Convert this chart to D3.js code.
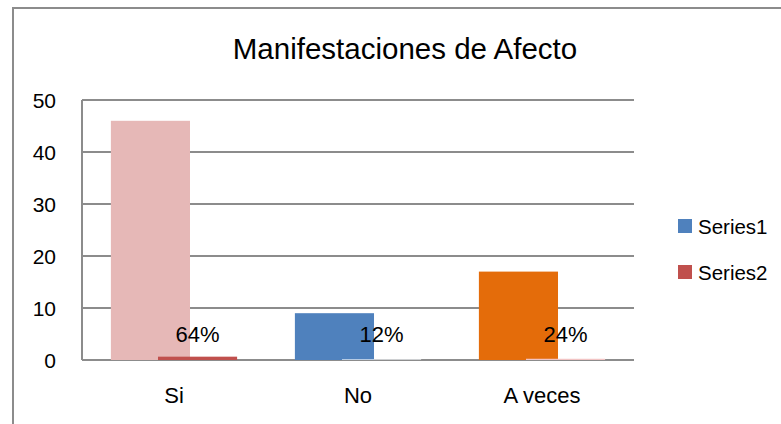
<!DOCTYPE html>
<html>
<head>
<meta charset="utf-8">
<script src="https://cdn.jsdelivr.net/npm/d3@7"></script>
<style>
  body { margin: 0; background: #fff; }
  svg { display: block; font-family: "Liberation Sans", Arial, sans-serif; }
</style>
</head>
<body>
<svg id="chart"></svg>
<script>
const categories = ["Si", "No", "A veces"];
const series1 = [46, 9, 17];
const series2 = [0.64, 0.12, 0.24];
const series2Labels = ["64%", "12%", "24%"];
const yTicks = [0, 10, 20, 30, 40, 50];
const seriesNames = ["Series1", "Series2"];

const series1Colors = ["#E6B8B7", "#4F81BD", "#E46C0A"];
const series2Colors = ["#C0504D", "#F5F8FC", "#F2C4C4"];
const legendColors = ["#4F81BD", "#C0504D"];

const width = 781;
const height = 424;
const margin = { top: 100, right: 147, bottom: 64, left: 82 };

const svg = d3.select("#chart")
    .attr("width", width)
    .attr("height", height);

// outer frame
svg.append("path")
    .attr("d", `M13,${height} V8 H${width}`)
    .attr("fill", "none")
    .attr("stroke", "#8c8c8c")
    .attr("stroke-width", 2);

svg.append("text")
    .attr("x", 405)
    .attr("y", 59)
    .attr("text-anchor", "middle")
    .attr("font-size", "29.5px")
    .attr("fill", "#000")
    .text("Manifestaciones de Afecto");

const xScale = d3.scaleBand()
    .domain(categories)
    .range([margin.left, width - margin.right])
    .padding(0);

const yScale = d3.scaleLinear()
    .domain([0, 50])
    .range([height - margin.bottom, margin.top]);

const bw = xScale.bandwidth() * 0.43;
const off = xScale.bandwidth() * 0.128;

// gridlines
svg.append("g")
    .selectAll("line")
    .data(yTicks)
    .join("line")
    .attr("x1", margin.left)
    .attr("x2", width - margin.right)
    .attr("y1", d => yScale(d))
    .attr("y2", d => yScale(d))
    .attr("stroke", "#8c8c8c")
    .attr("stroke-width", 2);

// left axis line
svg.append("line")
    .attr("x1", margin.left)
    .attr("x2", margin.left)
    .attr("y1", yScale(50))
    .attr("y2", yScale(0))
    .attr("stroke", "#8c8c8c")
    .attr("stroke-width", 2);

// y labels
svg.append("g")
    .selectAll("text")
    .data(yTicks)
    .join("text")
    .attr("x", 56)
    .attr("y", d => yScale(d))
    .attr("dy", "0.36em")
    .attr("text-anchor", "end")
    .attr("font-size", "21px")
    .text(d => d);

// series1 bars
svg.append("g")
    .selectAll("rect")
    .data(series1)
    .join("rect")
    .attr("x", (d, i) => xScale(categories[i]) + xScale.bandwidth() / 2 - off - bw / 2)
    .attr("y", d => yScale(d))
    .attr("width", bw)
    .attr("height", d => yScale(0) - yScale(d))
    .attr("fill", (d, i) => series1Colors[i]);

// series2 bars
svg.append("g")
    .selectAll("rect")
    .data(series2)
    .join("rect")
    .attr("x", (d, i) => xScale(categories[i]) + xScale.bandwidth() / 2 + off - bw / 2)
    .attr("y", d => yScale(d))
    .attr("width", bw)
    .attr("height", d => yScale(0) - yScale(d))
    .attr("fill", (d, i) => series2Colors[i]);

// series2 labels
svg.append("g")
    .selectAll("text")
    .data(series2)
    .join("text")
    .attr("x", (d, i) => xScale(categories[i]) + xScale.bandwidth() / 2 + off)
    .attr("y", 342)
    .attr("text-anchor", "middle")
    .attr("font-size", "22px")
    .text((d, i) => series2Labels[i]);

// category labels
svg.append("g")
    .selectAll("text")
    .data(categories)
    .join("text")
    .attr("x", d => xScale(d) + xScale.bandwidth() / 2)
    .attr("y", 403)
    .attr("text-anchor", "middle")
    .attr("font-size", "22px")
    .text(d => d);

// legend
const legend = svg.append("g")
    .selectAll("g")
    .data(seriesNames)
    .join("g")
    .attr("transform", (d, i) => `translate(678,${219 + i * 46})`);

legend.append("rect")
    .attr("width", 14)
    .attr("height", 14)
    .attr("fill", (d, i) => legendColors[i]);

legend.append("text")
    .attr("x", 20)
    .attr("y", 14.5)
    .attr("font-size", "20.5px")
    .text(d => d);
</script>
</body>
</html>
